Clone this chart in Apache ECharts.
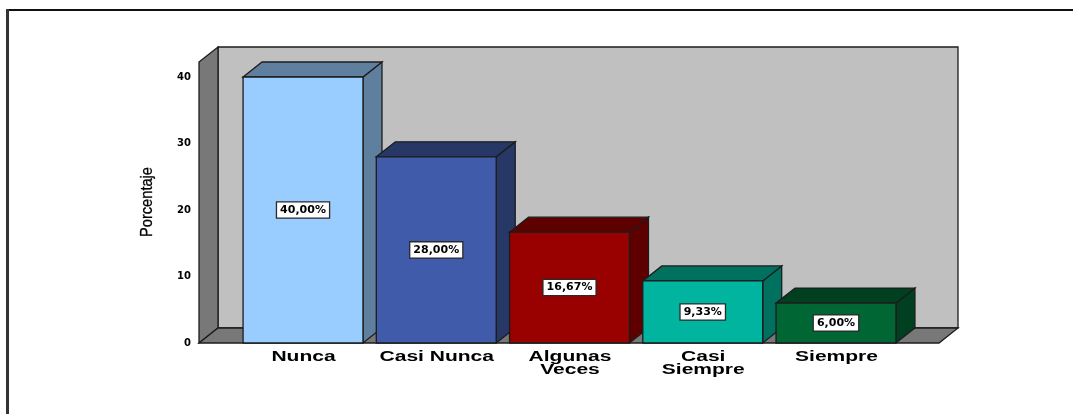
<!DOCTYPE html>
<html>
<head>
<meta charset="utf-8">
<style>html,body{margin:0;padding:0;background:#fff}#c{width:1073px;height:414px}</style>
<script src="https://cdn.jsdelivr.net/npm/echarts@6/dist/echarts.min.js"></script>
</head>
<body>
<div id="c"></div>
<script>
const categories = ['Nunca', 'Casi Nunca', 'Algunas\nVeces', 'Casi\nSiempre', 'Siempre'];
const values = [40, 28, 16.67, 9.33, 6];
const valueLabels = ['40,00%', '28,00%', '16,67%', '9,33%', '6,00%'];
const yTicks = [0, 10, 20, 30, 40];
const frontColors = ['#99CCFF', '#3F5BA9', '#990000', '#00B4A0', '#006633'];
const shadeColors = ['#5F7F9F', '#273866', '#5F0000', '#00705F', '#003F1F'];
const wallBack = '#C0C0C0', wallSide = '#787878', edge = '#1c1c1c';
const depthX = 19, depthY = 15;
const barFrac = 0.9;
const pad = {left: 37.4, right: 36.4, top: 15};

const chart = echarts.init(document.getElementById('c'), null, {renderer: 'canvas'});

function poly(points, fill) {
  return {type: 'polygon', shape: {points}, style: {fill, stroke: edge, lineWidth: 1.3, lineJoin: 'miter'}};
}

function renderWalls(params, api) {
  const cs = params.coordSys;
  const l = cs.x - pad.left, r = cs.x + cs.width + pad.right;
  const b = cs.y + cs.height, t = cs.y - pad.top;
  return {type: 'group', children: [
    poly([[l + depthX, t - depthY], [r + depthX, t - depthY], [r + depthX, b - depthY], [l + depthX, b - depthY]], wallBack),
    poly([[l, t], [l + depthX, t - depthY], [l + depthX, b - depthY], [l, b]], wallSide),
    poly([[l, b], [l + depthX, b - depthY], [r + depthX, b - depthY], [r, b]], wallSide)
  ]};
}

function renderBar(params, api) {
  const i = api.value(0), v = api.value(1);
  const c = api.coord([i, v]), c0 = api.coord([i, 0]), mid = api.coord([i, v / 2]);
  const w = api.size([1, 0])[0] * barFrac;
  const x0 = c[0] - w / 2, x1 = c[0] + w / 2, yt = c[1], yb = c0[1];
  const dx = depthX, dy = depthY;
  return {type: 'group', children: [
    poly([[x1, yt], [x1 + dx, yt - dy], [x1 + dx, yb - dy], [x1, yb]], shadeColors[i]),
    poly([[x0, yt], [x0 + dx, yt - dy], [x1 + dx, yt - dy], [x1, yt]], shadeColors[i]),
    poly([[x0, yt], [x1, yt], [x1, yb], [x0, yb]], frontColors[i]),
    {type: 'text', x: c[0], y: mid[1], style: {
      text: valueLabels[i], font: 'bold 11px "DejaVu Sans"', fill: '#000',
      align: 'center', verticalAlign: 'middle', backgroundColor: '#fff',
      borderColor: '#2a2a2a', borderWidth: 1.3, padding: [2, 3, 2, 3]
    }},
    {type: 'text', x: c[0] + 0.5, y: yb + 8, scaleX: 1.5, style: {
      text: categories[i], font: 'bold 14px "Liberation Sans"', fill: '#000',
      align: 'center', verticalAlign: 'top', lineHeight: 13
    }}
  ]};
}

chart.setOption({
  animation: false,
  backgroundColor: '#fff',
  grid: {left: 236.4, width: 666.2, top: 77, height: 266},
  xAxis: {type: 'category', data: categories, show: false},
  yAxis: {
    type: 'value', min: 0, max: 40, interval: 10, offset: 37.4,
    axisLine: {show: false}, axisTick: {show: false}, splitLine: {show: false},
    axisLabel: {margin: 8, color: '#000', fontFamily: 'DejaVu Sans', fontWeight: 'bold', fontSize: 10, padding: [4, 0, 0, 0],
      formatter: v => yTicks.includes(v) ? String(v) : ''}
  },
  graphic: [
    {type: 'line', shape: {x1: 6, y1: 10, x2: 1073, y2: 10}, style: {stroke: '#111', lineWidth: 2}, silent: true},
    {type: 'line', shape: {x1: 7.5, y1: 9, x2: 7.5, y2: 414}, style: {stroke: '#333', lineWidth: 3}, silent: true},
    {type: 'text', x: 147.5, y: 202, rotation: Math.PI / 2, scaleX: 0.86, style: {
      text: 'Porcentaje', font: '17px "Liberation Sans"', fill: '#000', stroke: '#000', lineWidth: 0.3,
      align: 'center', verticalAlign: 'middle'
    }, silent: true}
  ],
  series: [
    {type: 'custom', coordinateSystem: 'cartesian2d', clip: false, silent: true, z: 1,
      renderItem: renderWalls, data: [[0, 0]], encode: {x: 0, y: 1}},
    {type: 'custom', coordinateSystem: 'cartesian2d', clip: false, silent: true, z: 2,
      renderItem: renderBar, data: values.map((v, i) => [i, v]), encode: {x: 0, y: 1}}
  ]
});
</script>
</body>
</html>
